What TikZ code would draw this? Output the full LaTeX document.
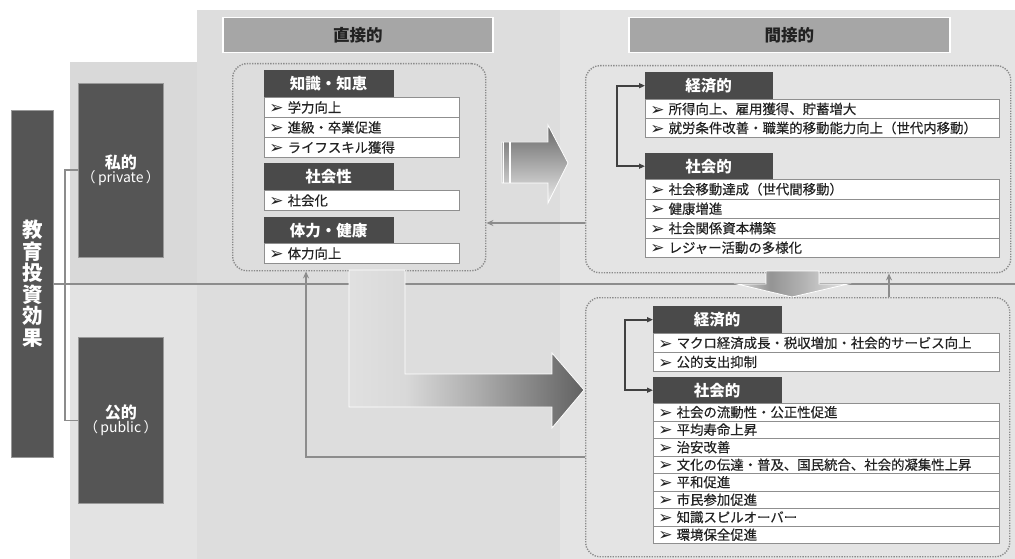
\documentclass[tikz,border=0pt]{standalone}
\usepackage{fontspec}
\usetikzlibrary{arrows.meta,calc}
\newfontfamily\jp{Noto Sans CJK JP}
\newfontfamily\jpi{Noto Sans CJK JP}[FakeBold=0.35]
\newfontfamily\dv{DejaVu Sans}
\definecolor{bgA}{HTML}{D9D9D9}
\definecolor{bgAl}{HTML}{E3E3E3}
\definecolor{bgB}{HTML}{DDDDDD}
\definecolor{bgC}{HTML}{E4E4E4}
\definecolor{boxdark}{HTML}{555555}
\definecolor{hdrgray}{HTML}{4A4A4A}
\definecolor{titlegray}{HTML}{A6A6A6}
\definecolor{linegray}{HTML}{8C8C8C}
\definecolor{dotgray}{HTML}{8A8A8A}
\definecolor{itemline}{HTML}{8F8F8F}
\definecolor{txt}{HTML}{222222}
\definecolor{brk}{HTML}{404040}
\pgfdeclarehorizontalshading{Lshade}{100bp}{color(0bp)=(black!12); color(25bp)=(black!12); color(37bp)=(black!15); color(52bp)=(black!32); color(75bp)=(black!62); color(100bp)=(black!62)}
\pgfdeclarehorizontalshading{Dshade}{100bp}{color(0bp)=(black!14); color(25bp)=(black!14); color(40bp)=(black!42); color(55bp)=(black!30); color(75bp)=(black!10); color(100bp)=(black!10)}
\newcommand\bl{\raisebox{-1pt}{\dv\fontsize{17}{17}\selectfont ➢}\hspace{4pt}}
\tikzset{
  item/.style 2 args={draw=itemline, fill=white, anchor=north west, inner xsep=5pt, inner ysep=0pt,
    text width=#1, minimum height=#2, align=left, text=txt, line width=0.9pt,
    font=\jpi\fontsize{13.4}{14}\selectfont},
  hdr/.style={fill=hdrgray, draw=hdrgray, anchor=north west, minimum width=#1, minimum height=27pt,
    inner sep=0pt, text=white, font=\jp\bfseries\fontsize{15.5}{16}\selectfont},
  titlebar/.style={fill=titlegray, draw=white, line width=1.5pt, minimum width=#1, minimum height=35pt,
    anchor=north west, inner sep=0pt, text=txt, font=\jp\bfseries\fontsize{16.5}{17}\selectfont},
  dotbox/.style 2 args={draw=dotgray, line width=1.4pt, dash pattern=on 1.3pt off 1.3pt,
    rounded corners=14pt, anchor=north west, inner sep=0pt, minimum width=#1, minimum height=#2},
  darkbox/.style 2 args={fill=boxdark, draw=black!40, line width=0.6pt, anchor=north west, inner sep=0pt,
    minimum width=#1, minimum height=#2, text=white, align=center},
  conn/.style={draw=linegray, line width=1.6pt},
  tarrow/.style={draw=linegray, line width=1.6pt, -{Stealth[length=7pt,width=6pt]}},
  brarrow/.style={draw=brk, line width=1.8pt, {Triangle[length=6pt,width=5pt]}-{Triangle[length=6pt,width=5pt]}},
  bigarrow/.style={draw=white, line width=0.8pt}
}
\begin{document}
\begin{tikzpicture}[x=1pt,y=-1pt]
\useasboundingbox (0,0) rectangle (1015,559);
% backgrounds
\fill[white] (0,0) rectangle (1015,559);
\fill[bgA] (70,62) rectangle (197,283);
\fill[bgAl] (70,283) rectangle (197,559);
\fill[bgB] (197,10) rectangle (560,559);
\fill[bgC] (560,10) rectangle (1015,559);

% title bars
\node[titlebar=270pt] (tdir) at (222,17) {直接的};
\node[titlebar=321pt] (tind) at (628,17) {間接的};

% left boxes
\node[darkbox={42pt}{347pt}, font=\jp\bfseries\fontsize{20.5}{21.5}\selectfont] (edu) at (11,110) {教\\育\\投\\資\\効\\果};
\node[darkbox={85pt}{174pt}] (priv) at (78,83) {{\jp\bfseries\fontsize{16}{17}\selectfont 私的}\\[-1pt]{\jp\fontsize{14}{15}\selectfont （\,private\,）}};
\node[darkbox={85pt}{166pt}] (pub) at (78,337) {{\jp\bfseries\fontsize{16}{17}\selectfont 公的}\\[-1pt]{\jp\fontsize{14}{15}\selectfont （\,public\,）}};

% named free ends
\coordinate (lineR) at (1015,283);
\coordinate (ly) at (0,223);
\coordinate (px) at (306,457);
\coordinate (upx) at (889,0);

% main horizontal line and bracket
\draw[conn] (edu.east) -- (edu.east -| lineR);
\draw[conn] (priv.west) -- ++(-13,0) |- (pub.west);

% dotted group boxes
\node[dotbox={253pt}{207pt}] (dir) at (232,63) {};
\node[dotbox={425pt}{207pt}] (ind1) at (585,65) {};
\node[dotbox={424pt}{259pt}] (ind2) at (585,297) {};

% direct contents
\node[hdr=129pt] (dh1) at (264,70) {知識・知恵};
\node[item={185pt}{20pt}] (d1) at (264,97) {\bl 学力向上};
\node[item={185pt}{20pt}] (d2) at (264,117) {\bl 進級・卒業促進};
\node[item={185pt}{20pt}] (d3) at (264,137) {\bl ライフスキル獲得};
\node[hdr=129pt] (dh2) at (264,163) {社会性};
\node[item={185pt}{20pt}] (d4) at (264,190) {\bl 社会化};
\node[hdr=129pt, minimum height=26pt] (dh3) at (264,217) {体力・健康};
\node[item={185pt}{20pt}] (d5) at (264,243) {\bl 体力向上};

% private indirect contents
\node[hdr=127pt] (ph1) at (645,72) {経済的};
\node[item={344pt}{19pt}] (p1) at (645,99) {\bl 所得向上、雇用獲得、貯蓄増大};
\node[item={344pt}{19pt}] (p2) at (645,118) {\bl 就労条件改善・職業的移動能力向上（世代内移動）};
\node[hdr=127pt, minimum height=26pt] (ph2) at (645,153) {社会的};
\node[item={344pt}{19.5pt}] (p3) at (645,179) {\bl 社会移動達成（世代間移動）};
\node[item={344pt}{19.5pt}] (p4) at (645,198.5) {\bl 健康増進};
\node[item={344pt}{19.5pt}] (p5) at (645,218) {\bl 社会関係資本構築};
\node[item={344pt}{19.5pt}] (p6) at (645,237.5) {\bl レジャー活動の多様化};
\draw[brarrow] (ph1.west) -- ++(-28,0) |- (ph2.west);

% public indirect contents
\node[hdr=128pt] (qh1) at (653,306) {経済的};
\node[item={336pt}{19pt}] (q1) at (653,333) {\bl マクロ経済成長・税収増加・社会的サービス向上};
\node[item={336pt}{19pt}] (q2) at (653,352) {\bl 公的支出抑制};
\node[hdr=128pt, minimum height=26pt] (qh2) at (653,377) {社会的};
\node[item={336pt}{17.5pt}] (q3) at (653,403) {\bl 社会の流動性・公正性促進};
\node[item={336pt}{17.5pt}] (q4) at (653,420.5) {\bl 平均寿命上昇};
\node[item={336pt}{17.5pt}] (q5) at (653,438) {\bl 治安改善};
\node[item={336pt}{17.5pt}] (q6) at (653,455.5) {\bl 文化の伝達・普及、国民統合、社会的凝集性上昇};
\node[item={336pt}{17.5pt}] (q7) at (653,473) {\bl 平和促進};
\node[item={336pt}{17.5pt}] (q8) at (653,490.5) {\bl 市民参加促進};
\node[item={336pt}{17.5pt}] (q9) at (653,508) {\bl 知識スピルオーバー};
\node[item={336pt}{17.5pt}] (q10) at (653,525.5) {\bl 環境保全促進};
\draw[brarrow] (qh1.west) -- ++(-28,0) |- (qh2.west);

% thin connectors
\draw[tarrow] (ind1.west |- ly) -- (dir.east |- ly);
\draw[tarrow] (ind2.west |- px) -| (dir.south -| px);
\draw[tarrow] (ind2.north -| upx) -- (ind1.south -| upx);

% big gradient arrows
\path[bigarrow, top color=black!60, bottom color=black!8]
  (502,142) -- (548,142) -- (548,125) -- (568,163) -- (548,203) -- (548,183) -- (502,183) -- cycle;
\draw[white, line width=1pt] (503.5,142) -- (503.5,183);
\draw[white, line width=1.5pt] (510,142) -- (510,183);
\path[bigarrow, shading=Lshade]
  (349,270) -- (405,270) -- (405,374) -- (552,374) -- (552,353) -- (584,390) -- (552,428) -- (552,407) -- (349,407) -- cycle;
\path[bigarrow, shading=Dshade]
  (766,271) -- (819,271) -- (819,284) -- (848,284) -- (792,297) -- (737,284) -- (766,284) -- cycle;
\end{tikzpicture}
\end{document}
